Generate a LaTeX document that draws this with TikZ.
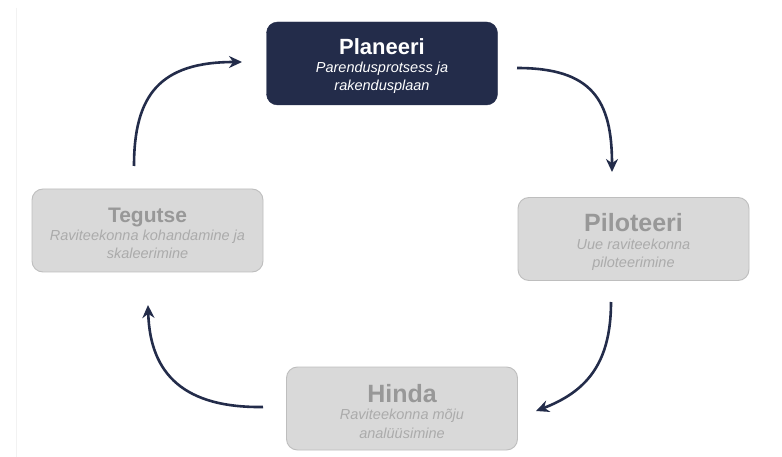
\documentclass[tikz,border=0pt]{standalone}
\usepackage{fontspec}
\setmainfont{Liberation Sans}
\usetikzlibrary{arrows.meta}
\definecolor{navy}{HTML}{232C4A}
\definecolor{boxgray}{HTML}{D9D9D9}
\definecolor{edgegray}{HTML}{BEBEBE}
\definecolor{titlegray}{HTML}{989898}
\definecolor{subgray}{HTML}{ABABAB}
\newcommand{\ttlfont}[1]{\fontsize{#1}{#1}\selectfont\bfseries\upshape}
\newcommand{\subfont}{\fontsize{14.5}{18.5}\selectfont\itshape}
\begin{document}
\begin{tikzpicture}[x=1pt,y=-1pt,
  stage/.style={rounded corners=11pt, minimum width=231pt, minimum height=83pt,
    inner sep=0pt},
  active/.style={stage, fill=navy, draw=navy},
  idle/.style={stage, fill=boxgray, draw=edgegray, line width=0.9pt},
  caption/.style={align=center, inner sep=0pt, font=\subfont, yshift=-3pt},
  flow/.style={draw=navy, line width=2.6pt, -{Stealth[length=13pt,width=12pt]}},
]
\useasboundingbox (0,0) rectangle (782,457);
\fill[white] (0,0) rectangle (782,457);
\draw[black!5, line width=0.8pt] (16,8) -- (16,457);

% stages of the cycle
\node[active] (plan) at (382,63.5) {};
\node[idle] (pilot) at (633.5,239) {};
\node[idle] (eval) at (402,408.5) {};
\node[idle] (act) at (147.5,230.5) {};

% stage texts: bold title over an italic description
\node[caption, text=white] (plan-text) at (plan.center)
  {{\ttlfont{22}Planeeri}\\[-1pt]
   Parendusprotsess ja\\rakendusplaan};
\node[caption, text=subgray] (pilot-text) at (pilot.center)
  {{\ttlfont{25}\color{titlegray}Piloteeri}\\[-1pt]
   Uue raviteekonna\\piloteerimine};
\node[caption, text=subgray] (eval-text) at (eval.center)
  {{\ttlfont{25}\color{titlegray}Hinda}\\[-1pt]
   Raviteekonna mõju\\analüüsimine};
\node[caption, text=subgray] (act-text) at (act.center)
  {{\ttlfont{21}\color{titlegray}Tegutse}\\[-1pt]
   Raviteekonna kohandamine ja\\skaleerimine};

% arrow end points
\coordinate (p1) at (517,68);
\coordinate (p2) at (612,172);
\coordinate (p3) at (611,302);
\coordinate (p4) at (536,411);
\coordinate (p5) at (263,407);
\coordinate (p6) at (148,305);
\coordinate (p7) at (134,166);
\coordinate (p8) at (242,62);

% cycle arrows
\draw[flow] (p1) .. controls (592,68) and (612,100) .. (p2);
\draw[flow] (p3) .. controls (611,365) and (585,392) .. (p4);
\draw[flow] (p5) .. controls (185,408) and (150,375) .. (p6);
\draw[flow] (p7) .. controls (134,95) and (160,62) .. (p8);
\end{tikzpicture}
\end{document}
